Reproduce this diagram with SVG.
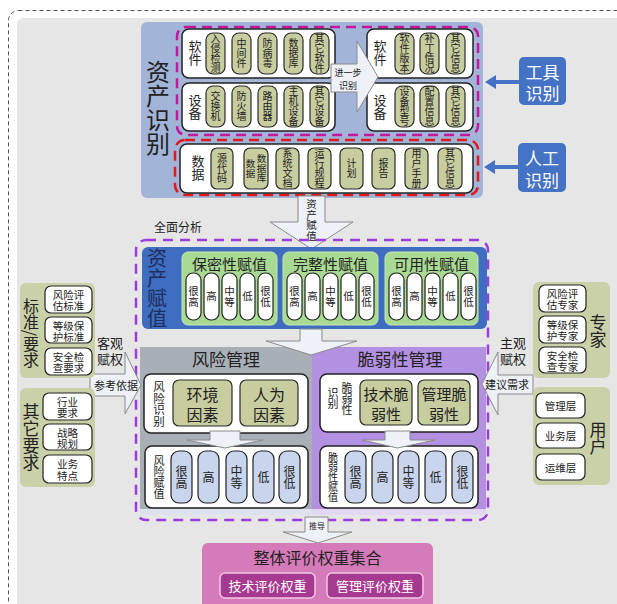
<svg xmlns="http://www.w3.org/2000/svg" width="617" height="604" viewBox="0 0 617 604">
<style>
text{font-family:"Noto Sans CJK SC","Noto Sans",sans-serif;fill:#222;text-anchor:middle}
.v{writing-mode:vertical-rl}
.h{dominant-baseline:central}
.w{fill:#fff}
.op{fill:#c7cd9f;stroke:#2a2a2a;stroke-width:1.2}
.wb{fill:#fff;stroke:#222;stroke-width:1.5}
.wp{fill:#fff;stroke:#222;stroke-width:1.2}
.bp{fill:#c9d5ec;stroke:#222;stroke-width:1.2}
.sp{fill:#cad0a8}
.ar{fill:#eef1f7;stroke:#8a8a8a;stroke-width:1}
.gv{fill:#a8da93;stroke:#c6e8b8;stroke-width:1}
</style>
<rect x="0" y="0" width="617" height="604" fill="#fff"/>
<rect x="8.5" y="10.5" width="640" height="640" rx="10" fill="none" stroke="#555" stroke-dasharray="4 3"/>
<rect x="17" y="18" width="620" height="600" rx="6" fill="#e6e6e6"/>

<g id="asset-identification">
<rect x="141" y="22" width="342" height="176" rx="6" fill="#a3b4d9"/>
<text class="v" x="158" y="108" font-size="24">资产识别</text>
<rect x="177" y="27" width="301" height="108" rx="9" fill="none" stroke="#c4179b" stroke-width="2.5" stroke-dasharray="10 6"/>
<g id="software-left">
<rect class="wb" x="182" y="29" width="153" height="49" rx="7"/>
<text class="v" x="195" y="53" font-size="13">软件</text>
<rect class="op" x="206" y="33" width="19" height="41" rx="7"/><text class="v" x="215.5" y="53.5" font-size="10">入侵检测</text>
<rect class="op" x="232" y="33" width="19" height="41" rx="7"/><text class="v" x="241.5" y="53.5" font-size="10">中间件</text>
<rect class="op" x="258" y="33" width="19" height="41" rx="7"/><text class="v" x="267.5" y="53.5" font-size="10">防病毒</text>
<rect class="op" x="284" y="33" width="19" height="41" rx="7"/><text class="v" x="293.5" y="53.5" font-size="10">数据库</text>
<rect class="op" x="310" y="33" width="19" height="41" rx="7"/><text class="v" x="319.5" y="53.5" font-size="10">其它软件</text>
</g>
<g id="device-left">
<rect class="wb" x="182" y="83" width="153" height="48" rx="7"/>
<text class="v" x="195" y="107" font-size="13">设备</text>
<rect class="op" x="206" y="86" width="19" height="41" rx="7"/><text class="v" x="215.5" y="106.5" font-size="10">交换机</text>
<rect class="op" x="232" y="86" width="19" height="41" rx="7"/><text class="v" x="241.5" y="106.5" font-size="10">防火墙</text>
<rect class="op" x="258" y="86" width="19" height="41" rx="7"/><text class="v" x="267.5" y="106.5" font-size="10">路由器</text>
<rect class="op" x="284" y="86" width="19" height="41" rx="7"/><text class="v" x="293.5" y="106.5" font-size="10">主机设备</text>
<rect class="op" x="310" y="86" width="19" height="41" rx="7"/><text class="v" x="319.5" y="106.5" font-size="10">其它设备</text>
</g>
<g id="software-right">
<rect class="wb" x="367" y="29" width="106" height="49" rx="7"/>
<text class="v" x="380" y="53" font-size="13">软件</text>
<rect class="op" x="395" y="33" width="19" height="41" rx="7"/><text class="v" x="404.5" y="53.5" font-size="10">软件版本</text>
<rect class="op" x="420" y="33" width="19" height="41" rx="7"/><text class="v" x="429.5" y="53.5" font-size="10">补丁情况</text>
<rect class="op" x="446" y="33" width="19" height="41" rx="7"/><text class="v" x="455.5" y="53.5" font-size="10">其它信息</text>
</g>
<g id="device-right">
<rect class="wb" x="367" y="83" width="106" height="48" rx="7"/>
<text class="v" x="380" y="107" font-size="13">设备</text>
<rect class="op" x="395" y="86" width="19" height="41" rx="7"/><text class="v" x="404.5" y="106.5" font-size="10">设备型号</text>
<rect class="op" x="420" y="86" width="19" height="41" rx="7"/><text class="v" x="429.5" y="106.5" font-size="10">配置信息</text>
<rect class="op" x="446" y="86" width="19" height="41" rx="7"/><text class="v" x="455.5" y="106.5" font-size="10">其它信息</text>
</g>
<g id="further-identification">
<path class="ar" d="M331,64 L357,64 L357,41 L378,77 L357,112 L357,92 L331,92 Z"/>
<text class="h" font-size="9"><tspan x="348" y="72">进一步</tspan><tspan x="348" y="85">识别</tspan></text>
</g>
<rect x="175" y="140" width="303" height="55" rx="10" fill="none" stroke="#e0191b" stroke-width="2.5" stroke-dasharray="10 6"/>
<g id="data">
<rect class="wb" x="180" y="144" width="293" height="49" rx="7"/>
<text class="v" x="198" y="168" font-size="13">数据</text>
<rect class="op" x="211" y="148" width="22" height="41" rx="6"/><text class="v" x="222" y="168.5" font-size="10">源代码</text>
<rect class="op" x="244" y="148" width="24" height="41" rx="6"/><text class="v" font-size="9.5"><tspan x="261.5" y="168">数据库</tspan><tspan x="250.5" y="168">数据</tspan></text>
<rect class="op" x="276" y="148" width="23" height="41" rx="6"/><text class="v" x="287.5" y="168.5" font-size="10">系统文档</text>
<rect class="op" x="308" y="148" width="23" height="41" rx="6"/><text class="v" x="319.5" y="168.5" font-size="10">运行规程</text>
<rect class="op" x="340" y="148" width="23" height="41" rx="6"/><text class="v" x="351.5" y="168.5" font-size="10">计划</text>
<rect class="op" x="372" y="148" width="23" height="41" rx="6"/><text class="v" x="383.5" y="168.5" font-size="10">报告</text>
<rect class="op" x="405" y="148" width="23" height="41" rx="6"/><text class="v" x="416.5" y="168.5" font-size="10">用户手册</text>
<rect class="op" x="438" y="148" width="24" height="41" rx="6"/><text class="v" x="450" y="168.5" font-size="10">其它信息</text>
</g>
</g>

<g id="tool-identification">
<rect x="519" y="57" width="47" height="48" rx="5" fill="#4472c4"/>
<text class="h w" font-size="17"><tspan x="542.5" y="71">工具</tspan><tspan x="542.5" y="92">识别</tspan></text>
</g>
<g id="manual-identification">
<rect x="518" y="143" width="48" height="49" rx="5" fill="#4472c4"/>
<text class="h w" font-size="17"><tspan x="542" y="157">人工</tspan><tspan x="542" y="179">识别</tspan></text>
</g>

<g id="connectors">
<path d="M519,80 L496,80 L496,75 L485,82 L496,89 L496,84 L519,84 Z" fill="#4472c4"/>
<path d="M518,165 L495,165 L495,160 L484,167 L495,174 L495,169 L518,169 Z" fill="#4472c4"/>
<path class="ar" d="M298,196 L325,196 L325,222 L353,222 L311.5,249 L270,222 L298,222 Z"/>
<text class="v" x="311.5" y="220" font-size="10.5">资产赋值</text>
</g>

<text x="154" y="232" font-size="12" style="text-anchor:start">全面分析</text>
<rect x="136" y="240" width="352" height="280" rx="10" fill="none" stroke="#9a3ee0" stroke-width="2.5" stroke-dasharray="10 7"/>

<g id="asset-valuation">
<rect x="142" y="247" width="345" height="82" rx="6" fill="#3f6dbf"/>
<text class="v" x="157" y="288" font-size="20" style="fill:#1c2f60">资产赋值</text>
<g id="confidentiality">
<rect class="gv" x="182" y="252" width="95" height="73" rx="6"/>
<text class="h" x="229.5" y="263" font-size="15">保密性赋值</text>
<rect class="wp" x="186" y="273" width="15" height="47" rx="7"/><text class="v" x="193.5" y="296.5" font-size="10.5">很高</text>
<rect class="wp" x="204" y="273" width="15" height="47" rx="7"/><text class="v" x="211.5" y="296.5" font-size="10.5">高</text>
<rect class="wp" x="222" y="273" width="15" height="47" rx="7"/><text class="v" x="229.5" y="296.5" font-size="10.5">中等</text>
<rect class="wp" x="240" y="273" width="15" height="47" rx="7"/><text class="v" x="247.5" y="296.5" font-size="10.5">低</text>
<rect class="wp" x="258" y="273" width="15" height="47" rx="7"/><text class="v" x="265.5" y="296.5" font-size="10.5">很低</text>
</g>
<g id="integrity">
<rect class="gv" x="283" y="252" width="95" height="73" rx="6"/>
<text class="h" x="330.5" y="263" font-size="15">完整性赋值</text>
<rect class="wp" x="287" y="273" width="15" height="47" rx="7"/><text class="v" x="294.5" y="296.5" font-size="10.5">很高</text>
<rect class="wp" x="305" y="273" width="15" height="47" rx="7"/><text class="v" x="312.5" y="296.5" font-size="10.5">高</text>
<rect class="wp" x="323" y="273" width="15" height="47" rx="7"/><text class="v" x="330.5" y="296.5" font-size="10.5">中等</text>
<rect class="wp" x="341" y="273" width="15" height="47" rx="7"/><text class="v" x="348.5" y="296.5" font-size="10.5">低</text>
<rect class="wp" x="359" y="273" width="15" height="47" rx="7"/><text class="v" x="366.5" y="296.5" font-size="10.5">很低</text>
</g>
<g id="availability">
<rect class="gv" x="385" y="252" width="93" height="73" rx="6"/>
<text class="h" x="431.5" y="263" font-size="15">可用性赋值</text>
<rect class="wp" x="389" y="273" width="15" height="47" rx="7"/><text class="v" x="396.5" y="296.5" font-size="10.5">很高</text>
<rect class="wp" x="407" y="273" width="15" height="47" rx="7"/><text class="v" x="414.5" y="296.5" font-size="10.5">高</text>
<rect class="wp" x="425" y="273" width="15" height="47" rx="7"/><text class="v" x="432.5" y="296.5" font-size="10.5">中等</text>
<rect class="wp" x="443" y="273" width="15" height="47" rx="7"/><text class="v" x="450.5" y="296.5" font-size="10.5">低</text>
<rect class="wp" x="461" y="273" width="15" height="47" rx="7"/><text class="v" x="468.5" y="296.5" font-size="10.5">很低</text>
</g>
</g>

<g id="risk-management">
<rect x="140" y="347" width="173" height="168" fill="#dce2ee"/>
<rect x="140" y="347" width="173" height="162" fill="#a9afb6"/>
<text class="h" x="226" y="358" font-size="17">风险管理</text>
<rect class="wb" x="144" y="374" width="164" height="59" rx="7"/>
<text class="v" x="159" y="404" font-size="11.5">风险识别</text>
<rect class="op" x="173" y="380" width="59" height="46" rx="6"/>
<text class="h" font-size="16"><tspan x="202.5" y="394">环境</tspan><tspan x="202.5" y="414">因素</tspan></text>
<rect class="op" x="240" y="380" width="58" height="46" rx="6"/>
<text class="h" font-size="16"><tspan x="269" y="394">人为</tspan><tspan x="269" y="414">因素</tspan></text>
<rect class="wb" x="145" y="446" width="163" height="62" rx="7"/>
<text class="v" x="159" y="477" font-size="11">风险赋值</text>
<rect class="bp" x="171" y="451" width="21" height="52" rx="8"/><text class="v" x="181.5" y="477" font-size="12">很高</text>
<rect class="bp" x="198" y="451" width="21" height="52" rx="8"/><text class="v" x="208.5" y="477" font-size="12">高</text>
<rect class="bp" x="226" y="451" width="21" height="52" rx="8"/><text class="v" x="236.5" y="477" font-size="12">中等</text>
<rect class="bp" x="253" y="451" width="21" height="52" rx="8"/><text class="v" x="263.5" y="477" font-size="12">低</text>
<rect class="bp" x="279" y="451" width="21" height="52" rx="8"/><text class="v" x="289.5" y="477" font-size="12">很低</text>
<path class="ar" d="M210,431 L240,431 L240,440 L263,440 L225,448 L187,440 L210,440 Z"/>
</g>

<g id="vulnerability-management">
<rect x="312" y="347" width="174" height="168" fill="#e2d8f4"/>
<rect x="312" y="347" width="174" height="162" fill="#b490e2"/>
<text class="h" x="400" y="358" font-size="17">脆弱性管理</text>
<rect class="wb" x="320" y="374" width="158" height="58" rx="7"/>
<text class="v" x="333" y="398" font-size="11">识别</text>
<text class="v" x="347" y="399" font-size="11">脆弱性</text>
<rect class="op" x="360" y="380" width="52" height="45" rx="6"/>
<text class="h" font-size="15"><tspan x="386" y="393">技术脆</tspan><tspan x="386" y="413">弱性</tspan></text>
<rect class="op" x="418" y="380" width="52" height="45" rx="6"/>
<text class="h" font-size="15"><tspan x="444" y="393">管理脆</tspan><tspan x="444" y="413">弱性</tspan></text>
<rect class="wb" x="320" y="446" width="158" height="62" rx="7"/>
<text class="v" x="333" y="477" font-size="10">脆弱性赋值</text>
<rect class="bp" x="345" y="451" width="21" height="52" rx="8"/><text class="v" x="355.5" y="477" font-size="12">很高</text>
<rect class="bp" x="372" y="451" width="21" height="52" rx="8"/><text class="v" x="382.5" y="477" font-size="12">高</text>
<rect class="bp" x="398" y="451" width="21" height="52" rx="8"/><text class="v" x="408.5" y="477" font-size="12">中等</text>
<rect class="bp" x="425" y="451" width="21" height="52" rx="8"/><text class="v" x="435.5" y="477" font-size="12">低</text>
<rect class="bp" x="452" y="451" width="21" height="52" rx="8"/><text class="v" x="462.5" y="477" font-size="12">很低</text>
<path class="ar" d="M385,431 L410,431 L410,440 L435,440 L397.5,448 L362,440 L385,440 Z"/>
</g>

<g id="connectors-main">
<path class="ar" d="M300,329 L322,329 L322,341 L357,341 L311,355 L266,341 L300,341 Z"/>
<path class="ar" d="M90,374 L125,374 L125,352 L141,385 L125,414 L125,396 L90,396 Z"/>
<text class="h" x="116" y="385" font-size="11">参考依据</text>
<text class="h" font-size="13"><tspan x="110" y="342">客观</tspan><tspan x="110" y="358">赋权</tspan></text>
<path class="ar" d="M533,375 L498,375 L498,352 L482,384 L498,415 L498,394 L533,394 Z"/>
<text class="h" x="507" y="384" font-size="11">建议需求</text>
<text class="h" font-size="13"><tspan x="513" y="342">主观</tspan><tspan x="513" y="358">赋权</tspan></text>
<path class="ar" d="M305,517 L328,517 L328,532 L352,532 L318,543 L283,532 L305,532 Z"/>
<text class="h" x="317" y="525" font-size="8">推导</text>
</g>

<g id="standards">
<rect class="sp" x="20" y="283" width="75" height="95" rx="6"/>
<text class="v" x="31" y="333" font-size="16">标准/要求</text>
<rect class="wp" x="45" y="286" width="47" height="27" rx="6"/><text class="h" font-size="10.5"><tspan x="68.5" y="294">风险评</tspan><tspan x="68.5" y="305">估标准</tspan></text>
<rect class="wp" x="45" y="317" width="47" height="26" rx="6"/><text class="h" font-size="10.5"><tspan x="68.5" y="325">等级保</tspan><tspan x="68.5" y="336">护标准</tspan></text>
<rect class="wp" x="45" y="348" width="47" height="27" rx="6"/><text class="h" font-size="10.5"><tspan x="68.5" y="356">安全检</tspan><tspan x="68.5" y="367">查要求</tspan></text>
</g>
<g id="other-requirements">
<rect class="sp" x="20" y="388" width="75" height="99" rx="6"/>
<text class="v" x="31" y="437" font-size="17">其它要求</text>
<rect class="wp" x="43" y="393" width="49" height="27" rx="6"/><text class="h" font-size="10.5"><tspan x="67.5" y="401">行业</tspan><tspan x="67.5" y="412">要求</tspan></text>
<rect class="wp" x="43" y="424" width="49" height="26" rx="6"/><text class="h" font-size="10.5"><tspan x="67.5" y="432">战略</tspan><tspan x="67.5" y="443">规划</tspan></text>
<rect class="wp" x="43" y="455" width="49" height="28" rx="6"/><text class="h" font-size="10.5"><tspan x="67.5" y="463">业务</tspan><tspan x="67.5" y="475">特点</tspan></text>
</g>
<g id="experts">
<rect class="sp" x="533" y="282" width="77" height="96" rx="6"/>
<text class="v" x="598" y="331" font-size="17">专家</text>
<rect class="wp" x="539" y="285" width="47" height="27" rx="6"/><text class="h" font-size="10.5"><tspan x="562.5" y="293">风险评</tspan><tspan x="562.5" y="304">估专家</tspan></text>
<rect class="wp" x="539" y="316" width="47" height="27" rx="6"/><text class="h" font-size="10.5"><tspan x="562.5" y="324">等级保</tspan><tspan x="562.5" y="335">护专家</tspan></text>
<rect class="wp" x="539" y="347" width="47" height="26" rx="6"/><text class="h" font-size="10.5"><tspan x="562.5" y="355">安全检</tspan><tspan x="562.5" y="366">查专家</tspan></text>
</g>
<g id="users">
<rect class="sp" x="533" y="387" width="77" height="98" rx="6"/>
<text class="v" x="598" y="438" font-size="17">用户</text>
<rect class="wp" x="536" y="393" width="49" height="25" rx="6"/><text class="h" x="560.5" y="405.5" font-size="10.5">管理层</text>
<rect class="wp" x="536" y="423" width="49" height="25" rx="6"/><text class="h" x="560.5" y="435.5" font-size="10.5">业务层</text>
<rect class="wp" x="536" y="454" width="49" height="26" rx="6"/><text class="h" x="560.5" y="467" font-size="10.5">运维层</text>
</g>

<g id="overall-weights">
<rect x="202" y="543" width="231" height="70" rx="6" fill="#d67bb9"/>
<text class="h" x="317.5" y="557" font-size="16">整体评价权重集合</text>
<rect x="220" y="573" width="95" height="25" rx="5" fill="#a63a90" stroke="#f2c7e4" stroke-width="1.5"/>
<text class="h w" x="267.5" y="585.5" font-size="13">技术评价权重</text>
<rect x="327" y="573" width="96" height="25" rx="5" fill="#a63a90" stroke="#f2c7e4" stroke-width="1.5"/>
<text class="h w" x="375" y="585.5" font-size="13">管理评价权重</text>
</g>
</svg>
